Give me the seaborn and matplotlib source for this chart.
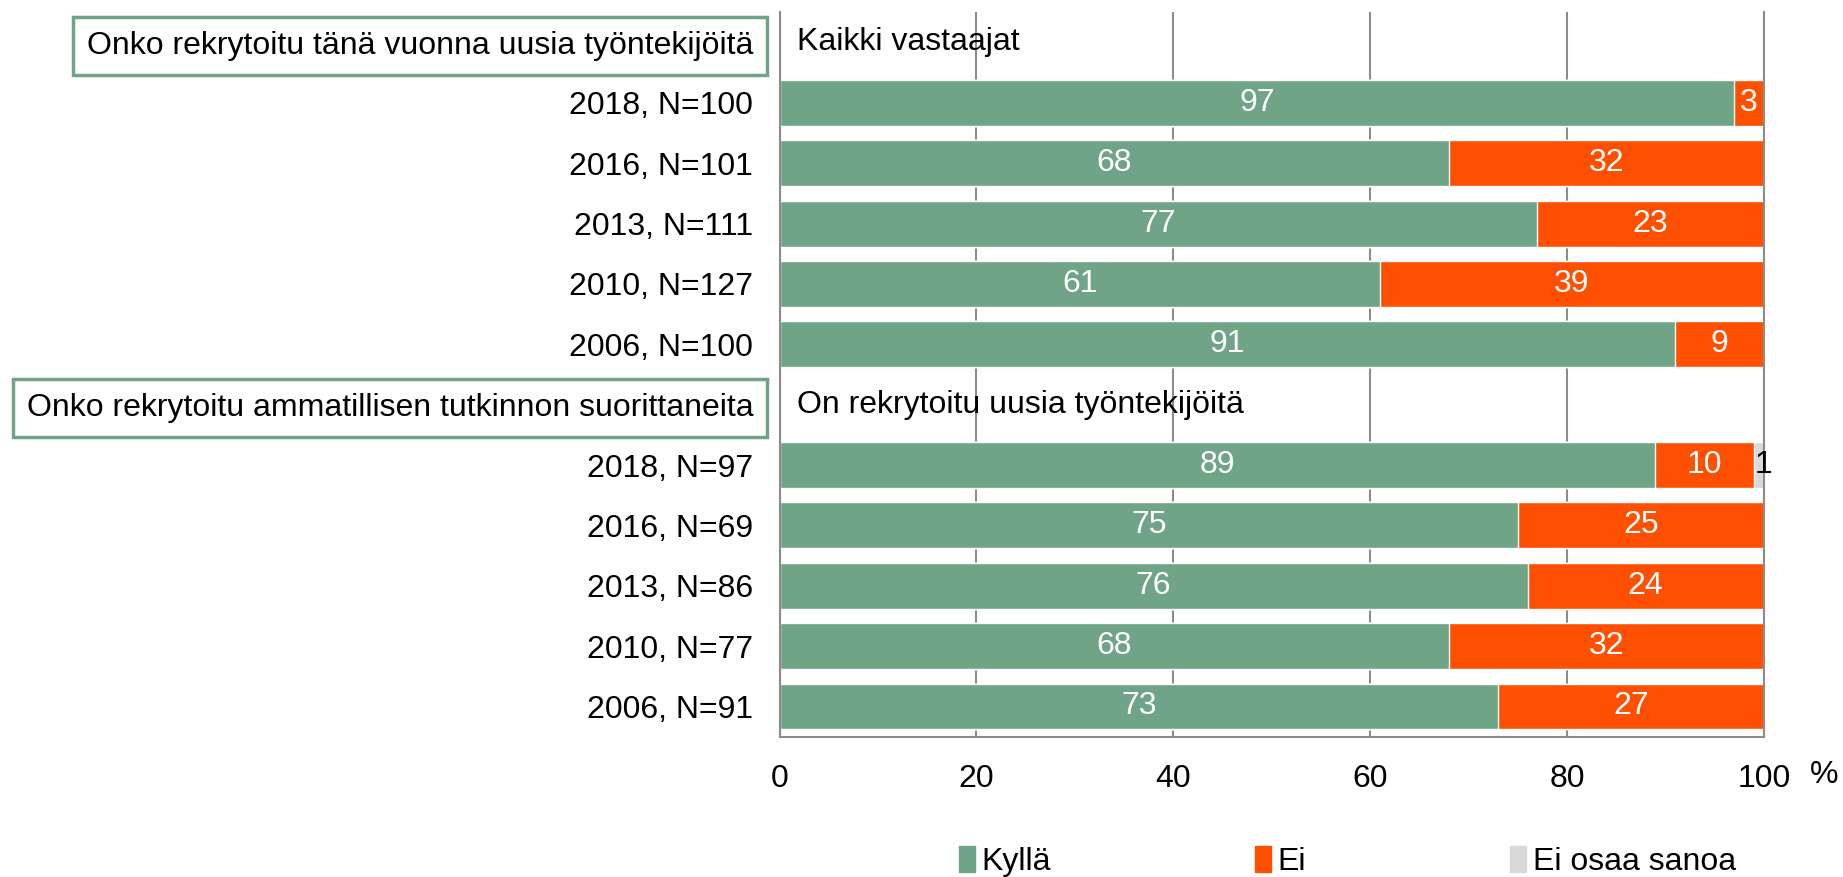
import matplotlib
matplotlib.use("Agg")
import matplotlib.pyplot as plt
import matplotlib.patches as mpatches
import numpy as np
import pandas as pd
import seaborn as sns

# rows from top to bottom, header rows have no bars
labels = ['Onko rekrytoitu tänä vuonna uusia työntekijöitä',
          '2018, N=100', '2016, N=101', '2013, N=111', '2010, N=127', '2006, N=100',
          'Onko rekrytoitu ammatillisen tutkinnon suorittaneita',
          '2018, N=97', '2016, N=69', '2013, N=86', '2010, N=77', '2006, N=91']
kylla = [np.nan, 97, 68, 77, 61, 91, np.nan, 89, 75, 76, 68, 73]
ei = [np.nan, 3, 32, 23, 39, 9, np.nan, 10, 25, 24, 32, 27]
eos = [np.nan, 0, 0, 0, 0, 0, np.nan, 1, 0, 0, 0, 0]
headers = {0: 'Kaikki vastaajat', 6: 'On rekrytoitu uusia työntekijöitä'}
series = ['Kyllä', 'Ei', 'Ei osaa sanoa']
colors = ['#6FA487', '#FF4F00', '#D9D9D9']

sns.set_style('white', {'text.color': 'black', 'xtick.color': 'black',
                        'ytick.color': 'black'})
plt.rcParams['font.family'] = ['Liberation Sans', 'DejaVu Sans']
FS = 23

df = pd.DataFrame({'label': labels, 'kylla': kylla, 'ei': ei, 'eos': eos})
df['c1'] = df['kylla']
df['c2'] = df['kylla'] + df['ei']
df['c3'] = df['c2'] + df['eos']

fig = plt.figure(figsize=(18.43, 8.77), dpi=100)
ax = fig.add_axes([0.423, 0.160, 0.534, 0.826])

# stacked bars by layering cumulative totals
for col, c in zip(['c3', 'c2', 'c1'], colors[::-1]):
    sns.barplot(data=df, x=col, y='label', order=labels, color=c,
                width=0.76, saturation=1, ax=ax, zorder=2)

# segment labels
for i, row in df.iterrows():
    if np.isnan(row['kylla']):
        continue
    ax.text(row['kylla'] / 2, i, f"{row['kylla']:.0f}", color='white',
            ha='center', va='center', fontsize=FS, zorder=5)
    if row['ei'] > 0:
        ax.text(row['kylla'] + row['ei'] / 2, i, f"{row['ei']:.0f}", color='white',
                ha='center', va='center', fontsize=FS, zorder=5)
    if row['eos'] > 0:
        ax.text(row['c3'], i, f"{row['eos']:.0f}", color='black',
                ha='center', va='center', fontsize=FS, zorder=5)

for i, t in headers.items():
    ax.text(1.8, i, t, ha='left', va='center', fontsize=FS, color='black', zorder=5)

ax.set_xlim(0, 100)
ax.set_xticks([0, 20, 40, 60, 80, 100])
ax.set_xlabel('')
ax.set_ylabel('')
ax.xaxis.grid(True, color='#8C8C8C', linewidth=1.5, zorder=0)
ax.set_axisbelow(True)
ax.tick_params(axis='x', length=0, pad=20, labelsize=FS, labelcolor='black')
ax.tick_params(axis='y', length=0, pad=19, labelsize=FS, labelcolor='black')
for s in ['left', 'right', 'bottom']:
    ax.spines[s].set_color('#8C8C8C')
    ax.spines[s].set_linewidth(1.5)
ax.spines['top'].set_visible(False)

for i, tl in enumerate(ax.get_yticklabels()):
    if i in headers:
        tl.set_bbox(dict(boxstyle='square,pad=0.44', facecolor='white',
                         edgecolor='#6FA487', linewidth=2.5))

fig.text(0.990, 0.116, '%', ha='center', va='center', fontsize=FS, color='black')

handles = [mpatches.Patch(color=c, label=s) for c, s in zip(colors, series)]
fig.legend(handles=handles, loc='center', bbox_to_anchor=(0.731, 0.018), ncol=3,
           frameon=False, fontsize=FS, handlelength=0.5, handleheight=0.9,
           handletextpad=0.2, columnspacing=6.4, labelcolor='black')

fig.savefig('out.png', dpi=100)
